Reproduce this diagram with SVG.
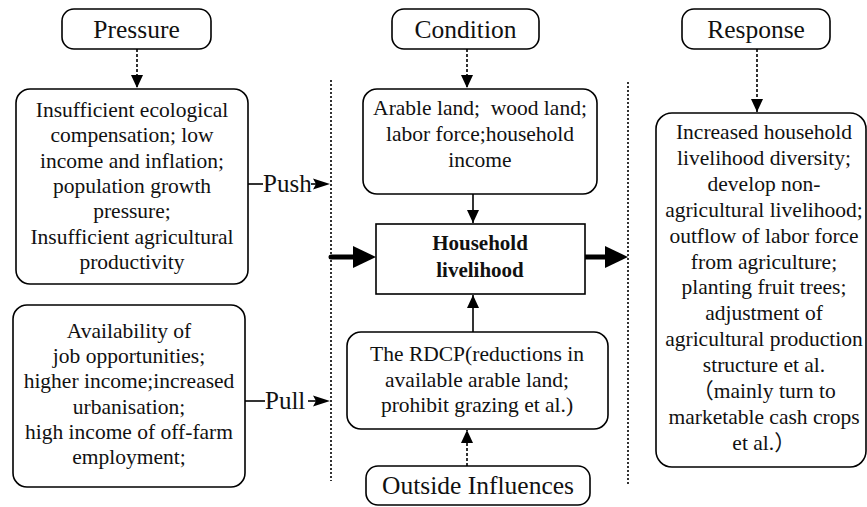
<svg xmlns="http://www.w3.org/2000/svg" width="867" height="507" viewBox="0 0 867 507" font-family="'Liberation Serif', 'Times New Roman', Times, 'Noto Sans CJK SC', serif">
<defs>
<style>
text{font-family:'Liberation Serif','Times New Roman',Times,'Noto Sans CJK SC',serif}
.box{fill:#fff;stroke:#000;stroke-width:1.6}
.t{font-size:21.5px;fill:#111;text-anchor:middle}
.h{font-size:25.5px;fill:#111;text-anchor:middle}
.b{font-size:21px;font-weight:bold;fill:#111;text-anchor:middle}
.pp{font-size:25px;fill:#111}
.dot{stroke:#000;stroke-width:1.6;stroke-dasharray:3 2;fill:none}
.vdot{stroke:#000;stroke-width:1.6;stroke-dasharray:2 2;fill:none}
.sol{stroke:#000;stroke-width:1.6;fill:none}
.thick{stroke:#000;stroke-width:5;fill:none;stroke-linecap:round}
</style>
<marker id="ah" markerUnits="userSpaceOnUse" markerWidth="14" markerHeight="12" refX="13" refY="6" orient="auto">
<path d="M0,0 L13,6 L0,12 z" fill="#000"/>
</marker>
</defs>

<g id="connectors">
<line class="vdot" x1="331" y1="80" x2="331" y2="481"/>
<line class="vdot" x1="628" y1="82" x2="628" y2="485"/>
<line class="dot" x1="137" y1="49" x2="137" y2="88" marker-end="url(#ah)"/>
<line class="dot" x1="467" y1="49" x2="467" y2="88" marker-end="url(#ah)"/>
<line class="dot" x1="757" y1="49" x2="757" y2="112" marker-end="url(#ah)"/>
<line class="sol" x1="473" y1="194" x2="473" y2="223" marker-end="url(#ah)"/>
<line class="sol" x1="473" y1="332" x2="473" y2="295" marker-end="url(#ah)"/>
<line class="dot" x1="467" y1="466" x2="467" y2="430" marker-end="url(#ah)"/>
<line class="thick" x1="331" y1="257" x2="355" y2="257"/>
<path d="M353,246 L376,257 L353,268 z" fill="#000"/>
<line class="thick" x1="585" y1="257" x2="607" y2="257"/>
<path d="M605,246 L628,257 L605,268 z" fill="#000"/>
<g id="push">
<line class="sol" x1="248" y1="184" x2="263" y2="184"/>
<text class="pp" x="263" y="192">Push</text>
<line class="sol" x1="311" y1="184" x2="318" y2="184"/>
<path d="M313,178.5 L330,184 L313,189.5 L316,184 z" fill="#000"/>
</g>
<g id="pull">
<line class="sol" x1="245" y1="401" x2="265" y2="401"/>
<text class="pp" x="265" y="409">Pull</text>
<line class="sol" x1="308" y1="401" x2="318" y2="401"/>
<path d="M313,395.5 L330,401 L313,406.5 L316,401 z" fill="#000"/>
</g>
</g>

<g id="pressure">
<rect class="box" x="62" y="9" width="149" height="40" rx="12"/>
<text class="h" x="136.5" y="37.5">Pressure</text>
</g>
<g id="condition">
<rect class="box" x="392" y="9" width="147" height="40" rx="12"/>
<text class="h" x="465.5" y="37.5">Condition</text>
</g>
<g id="response">
<rect class="box" x="682" y="9" width="148" height="40" rx="12"/>
<text class="h" x="756" y="37.5">Response</text>
</g>

<g id="push-factors">
<rect class="box" x="16" y="89" width="232" height="195" rx="14"/>
<text class="t" x="132" y="117">Insufficient ecological</text>
<text class="t" x="132" y="142.3">compensation; low</text>
<text class="t" x="132" y="167.6">income and inflation;</text>
<text class="t" x="132" y="193">population growth</text>
<text class="t" x="132" y="218.2">pressure;</text>
<text class="t" x="132" y="243.5">Insufficient agricultural</text>
<text class="t" x="132" y="268.8">productivity</text>
</g>

<g id="pull-factors">
<rect class="box" x="13" y="305" width="232" height="182" rx="14"/>
<text class="t" x="129" y="338">Availability of</text>
<text class="t" x="129" y="363.2">job opportunities;</text>
<text class="t" x="129" y="388.4">higher income;increased</text>
<text class="t" x="129" y="413.6">urbanisation;</text>
<text class="t" x="129" y="438.8">high income of off-farm</text>
<text class="t" x="129" y="464">employment;</text>
</g>

<g id="condition-factors">
<rect class="box" x="363" y="89" width="234" height="105" rx="14"/>
<text class="t" x="480" y="115">Arable land;&#160; wood land;</text>
<text class="t" x="480" y="141">labor force;household</text>
<text class="t" x="480" y="167">income</text>
</g>

<g id="household">
<rect class="box" x="376" y="224" width="209" height="70"/>
<text class="b" x="480" y="250">Household</text>
<text class="b" x="480" y="277">livelihood</text>
</g>

<g id="rdcp">
<rect class="box" x="347" y="332" width="261" height="97" rx="14"/>
<text class="t" x="477" y="361">The RDCP(reductions in</text>
<text class="t" x="477" y="386.5">available arable land;</text>
<text class="t" x="477" y="412">prohibit grazing et al.)</text>
</g>

<g id="outside">
<rect class="box" x="366" y="466" width="224" height="39" rx="12"/>
<text class="h" x="478" y="494">Outside Influences</text>
</g>

<g id="response-factors">
<rect class="box" x="656" y="113" width="210" height="354" rx="16"/>
<text class="t" x="764" y="139">Increased household</text>
<text class="t" x="764" y="164.9">livelihood diversity;</text>
<text class="t" x="764" y="190.8">develop non-</text>
<text class="t" x="764" y="216.7">agricultural livelihood;</text>
<text class="t" x="764" y="242.6">outflow of labor force</text>
<text class="t" x="764" y="268.5">from agriculture;</text>
<text class="t" x="764" y="294.4">planting fruit trees;</text>
<text class="t" x="764" y="320.3">adjustment of</text>
<text class="t" x="764" y="346.2">agricultural production</text>
<text class="t" x="764" y="372.1">structure et al.</text>
<text class="t" x="764" y="398">（mainly turn to</text>
<text class="t" x="764" y="423.9">marketable cash crops</text>
<text class="t" x="764" y="449.8">et al.）</text>
</g>
</svg>
